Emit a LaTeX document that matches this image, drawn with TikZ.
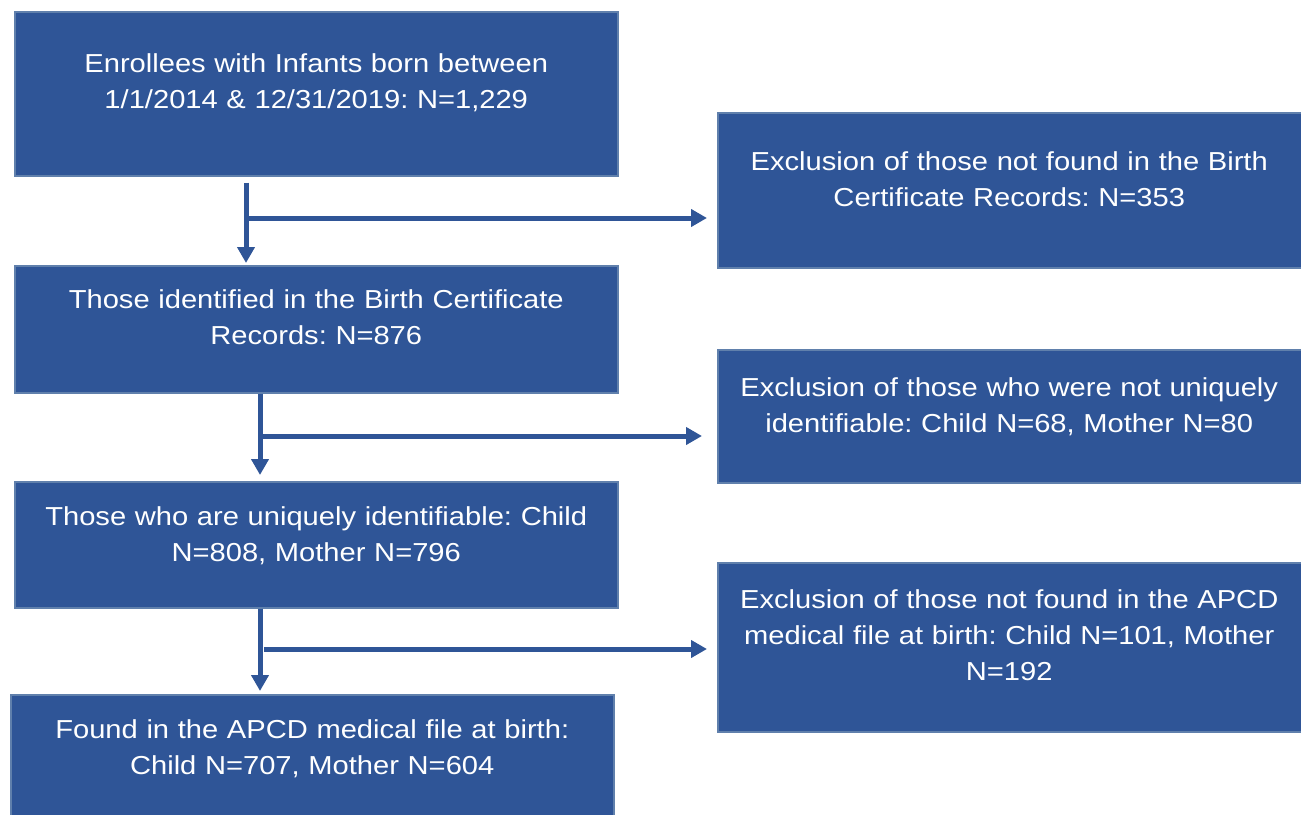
\documentclass[tikz,border=0pt]{standalone}
\usepackage{fontspec}
\setmainfont{Liberation Sans}[FakeStretch=1.12]
\usetikzlibrary{positioning}
\usetikzlibrary{calc}
\usetikzlibrary{arrows.meta}
\definecolor{boxblue}{RGB}{47,85,151}
\definecolor{edgeblue}{RGB}{96,128,172}
\frenchspacing
\tikzset{
	box/.style={rectangle,draw=edgeblue,line width=1.5pt,fill=boxblue,anchor=north west,inner sep=0pt},
	boxtext/.style={text=white,anchor=base,align=center,inner sep=0pt,font=\fontsize{26}{36}\selectfont},
	flow/.style={draw=boxblue,line width=5pt,-{Triangle[length=16pt,width=17pt]}},
}

\begin{document}
\begin{tikzpicture}[x=1pt,y=1pt]
			\useasboundingbox (0,0) rectangle (1301,-814);
			
			% left column boxes...................
			\node [box,minimum width=603pt,minimum height=164pt] (enrol) at (14,-11) {};
			\node [box,minimum width=603pt,minimum height=127pt] (ident) at (14,-265) {};
			\node [box,minimum width=603pt,minimum height=126pt] (uniq) at (14,-481) {};
			\node [box,minimum width=603pt,minimum height=130pt] (found) at (10,-694) {};
			
			% right column boxes..................
			\node [box,minimum width=586pt,minimum height=155pt] (notbirth) at (717,-112) {};
			\node [box,minimum width=586pt,minimum height=133pt] (notuniq) at (717,-349) {};
			\node [box,minimum width=586pt,minimum height=169pt] (notapcd) at (717,-562) {};
			
			% box texts...........................
			\node [boxtext,text width=580pt] (enroltext) at ($(enrol.north)+(0,-61)$) {Enrollees with Infants born between\\1/1/2014 \& 12/31/2019: N=1,229};
			\node [boxtext,text width=580pt] (identtext) at ($(ident.north)+(0,-43)$) {Those identified in the Birth Certificate\\Records: N=876};
			\node [boxtext,text width=580pt] (uniqtext) at ($(uniq.north)+(0,-44)$) {Those who are uniquely identifiable: Child\\N=808, Mother N=796};
			\node [boxtext,text width=580pt] (foundtext) at ($(found.north)+(0,-44)$) {Found in the APCD medical file at birth:\\Child N=707, Mother N=604};
			\node [boxtext,text width=570pt] (notbirthtext) at ($(notbirth.north)+(-1.5,-58)$) {Exclusion of those not found in the Birth\\Certificate Records: N=353};
			\node [boxtext,text width=570pt] (notuniqtext) at ($(notuniq.north)+(-1.5,-47)$) {Exclusion of those who were not uniquely\\identifiable: Child N=68, Mother N=80};
			\node [boxtext,text width=570pt] (notapcdtext) at ($(notapcd.north)+(-1.5,-46)$) {Exclusion of those not found in the APCD\\medical file at birth: Child N=101, Mother\\N=192};
			
			% split points........................
			\coordinate (split1) at (246,-218);
			\coordinate (split2) at (260,-436);
			\coordinate (split3) at (260,-649);
			
			% down arrows.........................
			\draw [flow,shorten <=6pt,shorten >=2pt] (enrol.south -| split1) -- (ident.north -| split1);
			\draw [flow,shorten >=6pt] (ident.south -| split2) -- (uniq.north -| split2);
			\draw [flow,shorten >=3pt] (uniq.south -| split3) -- (found.north -| split3);
			
			% exclusion arrows....................
			\draw [flow,shorten >=10pt] (split1) -- (notbirth.west |- split1);
			\draw [flow,shorten >=15pt] (split2) -- (notuniq.west |- split2);
			\draw [flow,shorten <=4pt,shorten >=10pt] (split3) -- (notapcd.west |- split3);
		\end{tikzpicture}
\end{document}
